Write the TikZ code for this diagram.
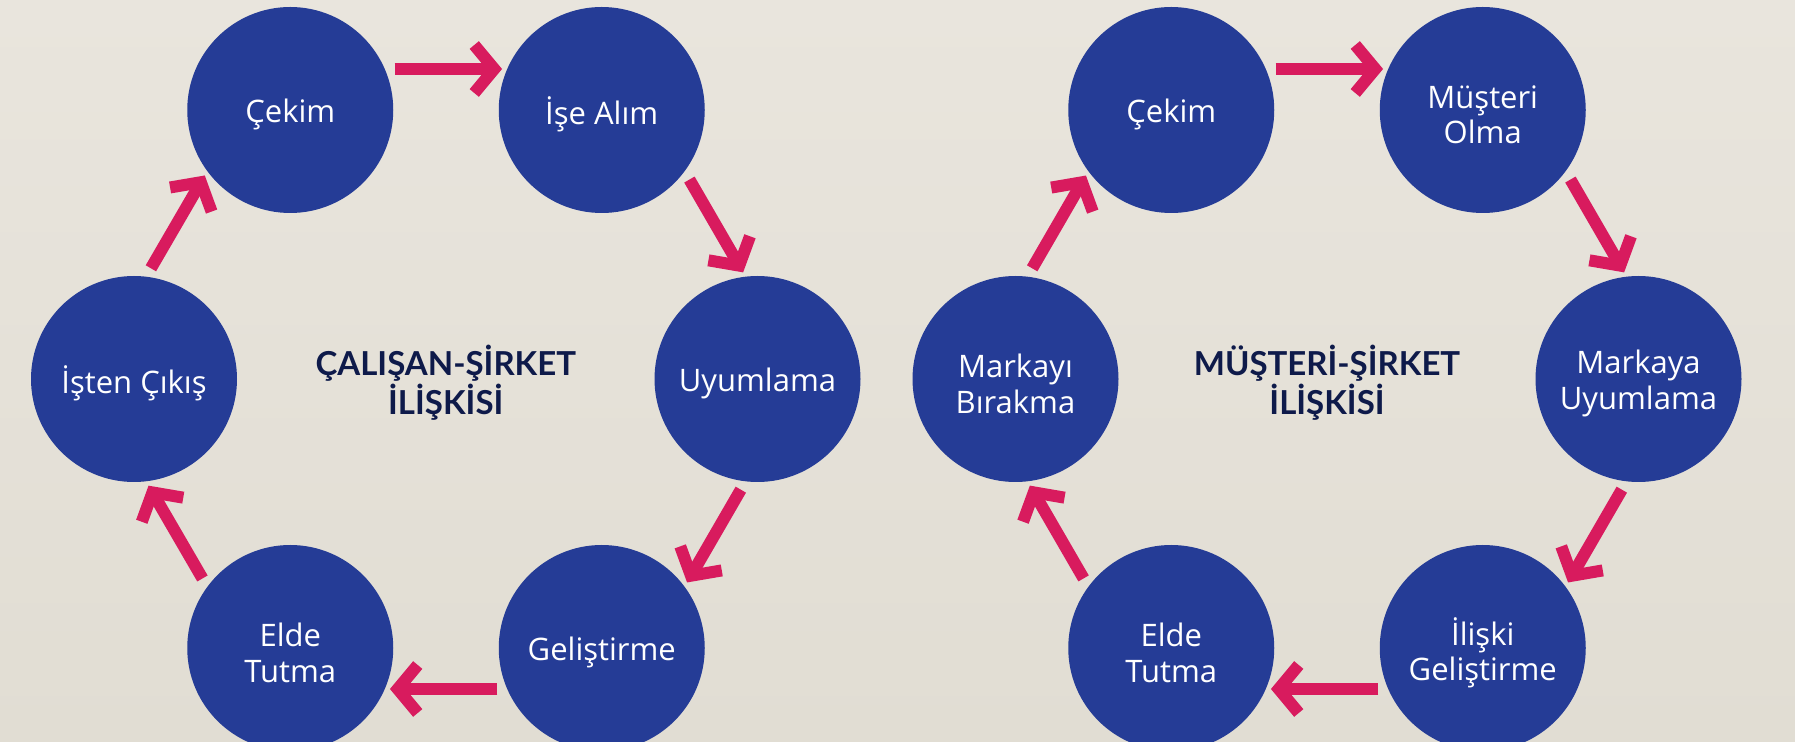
\documentclass[tikz,border=0pt]{standalone}
\usepackage{fontspec}
\setmainfont{Open Sans}
\newfontfamily\titlefont{Lato}
\usetikzlibrary{calc,arrows.meta}
\definecolor{bgtop}{RGB}{233,229,221}
\definecolor{bgbottom}{RGB}{225,221,211}
\definecolor{circblue}{RGB}{37,60,150}
\definecolor{arrpink}{RGB}{216,27,94}
\definecolor{titlenavy}{RGB}{14,26,74}
\tikzset{
	stage/.style={circle, fill=circblue, minimum size=103pt, inner sep=0pt},
	stagetext/.style={text=white, align=center, yshift=-2.3pt, font=\fontsize{15.5}{17.8}\selectfont},
	cyclearrow/.style={draw=arrpink, line width=6pt, -{Straight Barb[length=10pt, width=24pt, sharp]}},
	reltitle/.style={text=titlenavy, align=center, font=\titlefont\bfseries\fontsize{16.5}{19.5}\selectfont}
}
\begin{document}
\begin{tikzpicture}[x=0.5pt, y=-0.5pt]
%background
	\shade[top color=bgtop, bottom color=bgbottom] (0,0) rectangle (1795,742);
	\useasboundingbox (0,0) rectangle (1795,742);

%left cycle
	\foreach \xy/\name/\txt in {{(290.25,110)/l1/Çekim},{(601.75,110)/l2/İşe Alım},{(757.5,379)/l3/Uyumlama},{(601.75,648)/l4/Geliştirme},{(290.25,648)/l5/Elde\\Tutma},{(134,379)/l6/İşten Çıkış}} {
		\node[stage, label={[stagetext]center:\txt}] (\name) at \xy {};
	}
	\node[reltitle] (ltitle) at (445.75,383) {ÇALIŞAN-ŞİRKET\\İLİŞKİSİ};

%right cycle
	\foreach \xy/\name/\txt in {{(1171.25,110)/r1/Çekim},{(1482.75,110)/r2/Müşteri\\Olma},{(1638.5,379)/r3/Markaya\\Uyumlama},{(1482.75,648)/r4/İlişki\\Geliştirme},{(1171.25,648)/r5/Elde\\Tutma},{(1015.5,379)/r6/Markayı\\Bırakma}} {
		\node[stage, label={[stagetext]center:\txt}] (\name) at \xy {};
	}
	\node[reltitle] (rtitle) at (1327,383) {MÜŞTERİ-ŞİRKET\\İLİŞKİSİ};

%arrows
	\foreach \a/\b in {l1/l2, l2/l3, l3/l4, l4/l5, l5/l6, l6/l1, r1/r2, r2/r3, r3/r4, r4/r5, r5/r6, r6/r1} {
		\draw[cyclearrow] ($($(\a)!0.335!(\b)$)!20.5pt!90:(\b)$) -- ($($(\a)!0.68!(\b)$)!20.5pt!90:(\b)$);
	}
\end{tikzpicture}
\end{document}
